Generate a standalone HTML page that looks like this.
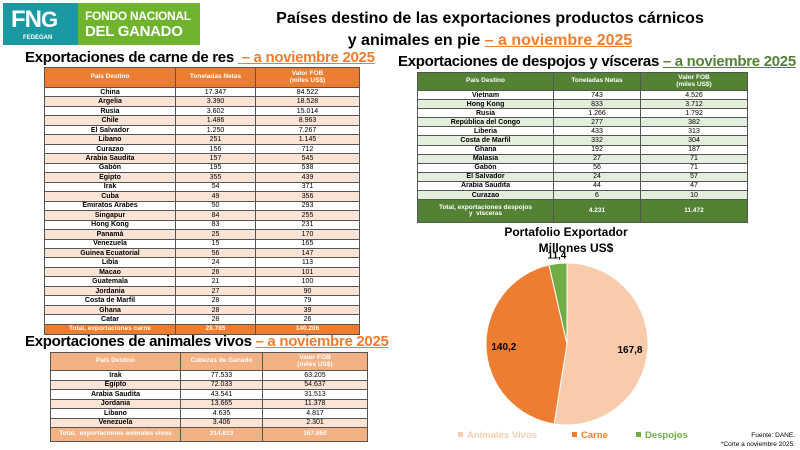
<!DOCTYPE html>
<html><head><meta charset="utf-8">
<style>
*{margin:0;padding:0;box-sizing:border-box}
body{width:800px;height:450px;background:#fff;position:relative;overflow:hidden;font-family:"Liberation Sans","DejaVu Sans",sans-serif;color:#000}
.abs{position:absolute}
h2{position:absolute;font-size:15px;font-weight:bold;white-space:nowrap;letter-spacing:-0.3px}
h2 span{text-decoration:underline}
table{position:absolute;border-collapse:collapse;table-layout:fixed;font-size:7px}
td,th{border:1px solid #555;text-align:center;padding:0;line-height:1;overflow:hidden;white-space:nowrap}
th{color:#fff;font-weight:bold;font-size:6.5px}
td.n{font-weight:bold}
</style></head><body>
<div class="abs" style="left:3px;top:3px;width:75px;height:42px;background:#1a9aa0;color:#fff">
 <div style="position:absolute;left:8px;top:3px;font-size:24px;font-weight:bold;letter-spacing:-1px">FN<span style="font-size:22px">G</span></div>
 <div style="position:absolute;left:20px;top:32px;font-size:6px;font-weight:bold">FEDEGAN</div>
</div>
<div class="abs" style="left:78px;top:3px;width:122px;height:42px;background:#6fb42c;color:#fff;font-weight:bold;line-height:16px;padding:5px 0 0 7px;white-space:nowrap;overflow:hidden">
 <div style="font-size:12px;letter-spacing:-0.3px">FONDO NACIONAL</div><div style="font-size:15px;letter-spacing:-0.3px">DEL GANADO</div>
</div>
<div class="abs" style="left:230px;top:8px;width:520px;text-align:center;font-size:16px;font-weight:bold;line-height:22px">Países destino de las exportaciones productos cárnicos<br>y animales en pie <span style="color:#ED7D31;text-decoration:underline">– a noviembre 2025</span></div>

<h2 style="left:25px;top:49px">Exportaciones de carne de res <span style="color:#ED7D31">&nbsp;– a noviembre 2025</span></h2>
<table style="left:44px;top:67px;width:315px" id="tb"></table>

<h2 style="left:25px;top:333px">Exportaciones de animales vivos <span style="color:#ED7D31">– a noviembre 2025</span></h2>
<table style="left:50px;top:352px;width:317px" id="tl"></table>

<h2 style="left:398px;top:53px">Exportaciones de despojos y vísceras <span style="color:#548235">– a noviembre 2025</span></h2>
<table style="left:417px;top:72px;width:330px" id="to"></table>

<svg class="abs" style="left:0;top:0" width="800" height="450" id="pie">
 <text x="566" y="236" text-anchor="middle" font-size="12" font-weight="bold" font-family="Liberation Sans">Portafolio Exportador</text>
 <text x="576" y="252" text-anchor="middle" font-size="12" font-weight="bold" font-family="Liberation Sans">Millones US$</text>
 <text x="795" y="437" text-anchor="end" font-size="6.5" font-family="Liberation Sans">Fuente: DANE.</text>
 <text x="795" y="446" text-anchor="end" font-size="6.5" font-family="Liberation Sans">*Corte a noviembre 2025.</text>
</svg>

<script>
const beef=[["China","17.347","84.522"],["Argelia","3.390","18.528"],["Rusia","3.602","15.014"],["Chile","1.486","8.963"],["El Salvador","1.250","7.267"],["Libano","251","1.145"],["Curazao","156","712"],["Arabia Saudita","157","545"],["Gabón","195","538"],["Egipto","355","439"],["Irak","54","371"],["Cuba","49","356"],["Emiratos Arabes","50","293"],["Singapur","84","255"],["Hong Kong","83","231"],["Panamá","25","170"],["Venezuela","15","165"],["Guinea Ecuatorial","56","147"],["Libia","24","113"],["Macao","26","101"],["Guatemala","21","100"],["Jordania","27","90"],["Costa de Marfil","28","79"],["Ghana","28","39"],["Catar","28","26"]];
const live=[["Irak","77.533","63.205"],["Egipto","72.033","54.637"],["Arabia Saudita","43.541","31.513"],["Jordania","13.665","11.378"],["Libano","4.635","4.817"],["Venezuela","3.406","2.301"]];
const offal=[["Vietnam","743","4.526"],["Hong Kong","833","3.712"],["Rusia","1.266","1.792"],["República del Congo","277","382"],["Liberia","433","313"],["Costa de Marfil","332","304"],["Ghana","192","187"],["Malasia","27","71"],["Gabón","56","71"],["El Salvador","24","57"],["Arabia Saudita","44","47"],["Curazao","6","10"]];
const categories=["Animales Vivos","Carne","Despojos"];
const values=[167.8,140.2,11.4];
const labels=["167,8","140,2","11,4"];

function buildTable(id,head,rows,total,hc,sc,cols,hh,rh,th){
 const t=document.getElementById(id);
 let h='<colgroup>'+cols.map(c=>'<col style="width:'+c+'px">').join('')+'</colgroup>';
 h+='<tr style="height:'+hh+'px;background:'+hc+'">'+head.map(x=>'<th>'+x+'</th>').join('')+'</tr>';
 rows.forEach((r,i)=>{h+='<tr style="height:'+rh+'px;background:'+(i%2?sc:'#fff')+'"><td class="n">'+r[0]+'</td><td>'+r[1]+'</td><td>'+r[2]+'</td></tr>';});
 h+='<tr style="height:'+th+'px;background:'+hc+'">'+total.map(x=>'<th>'+x+'</th>').join('')+'</tr>';
 t.innerHTML=h;
}
buildTable('tb',['País Destino','Toneladas Netas','Valor FOB<br>(miles US$)'],beef,['Total, exportaciones carne','28.785','140.206'],'#ED7D31','#FBE4D5',[131,80,104],20,9.48,10);
buildTable('tl',['País Destino','Cabezas de Ganado','Valor FOB<br>(miles US$)'],live,['Total,&nbsp; exportaciones animales vivos','214.813','167.850'],'#F4B183','#FBE4D5',[130,82,105],18,9.5,14);
buildTable('to',['País Destino','Toneladas Netas','Valor FOB<br>(miles US$)'],offal,['Total, exportaciones despojos<br>y&nbsp; vísceras','4.231','11.472'],'#548235','#E2EFDA',[136,87,107],18,9.1,23);

const svg=document.getElementById('pie');
const NS='http://www.w3.org/2000/svg';
const cx=567,cy=344,R=81;
const colors=["#F8CBAD","#ED7D31","#70AD47"];
const tot=values.reduce((a,b)=>a+b,0);
function ang(v){return v/tot*2*Math.PI;}
function pt(a,r){return [cx+r*Math.sin(a),cy-r*Math.cos(a)];}
let a0=0;
values.forEach((v,i)=>{
 const a1=a0+ang(v);
 const p0=pt(a0,R),p1=pt(a1,R);
 const p=document.createElementNS(NS,'path');
 p.setAttribute('d','M'+cx+','+cy+'L'+p0[0]+','+p0[1]+'A'+R+','+R+' 0 '+((a1-a0)>Math.PI?1:0)+' 1 '+p1[0]+','+p1[1]+'Z');
 p.setAttribute('fill',colors[i]);p.setAttribute('stroke','#fff');p.setAttribute('stroke-width','1');
 
 
 svg.appendChild(p);
 const mid=(a0+a1)/2;
 const lp=i==2?pt(mid,R+9):pt(mid,R*0.78);
 const t=document.createElementNS(NS,'text');
 t.setAttribute('x',lp[0]);t.setAttribute('y',lp[1]+4);t.setAttribute('text-anchor','middle');
 t.setAttribute('font-size','10');t.setAttribute('font-weight','bold');t.setAttribute('font-family','Liberation Sans');
 t.textContent=labels[i];
 
 
 svg.appendChild(t);
 a0=a1;
});
const lx=[458,572,636];
categories.forEach((c,i)=>{
 const r=document.createElementNS(NS,'rect');
 r.setAttribute('x',lx[i]);r.setAttribute('y',432);r.setAttribute('width',5);r.setAttribute('height',5);r.setAttribute('fill',colors[i]);
 
 
 svg.appendChild(r);
 const t=document.createElementNS(NS,'text');
 t.setAttribute('x',lx[i]+9);t.setAttribute('y',438);t.setAttribute('font-size','9.5');t.setAttribute('font-weight','bold');
 t.setAttribute('font-family','Liberation Sans');t.setAttribute('fill',colors[i]);
 t.textContent=c;
 
 
 svg.appendChild(t);
});
</script>
</body></html>
